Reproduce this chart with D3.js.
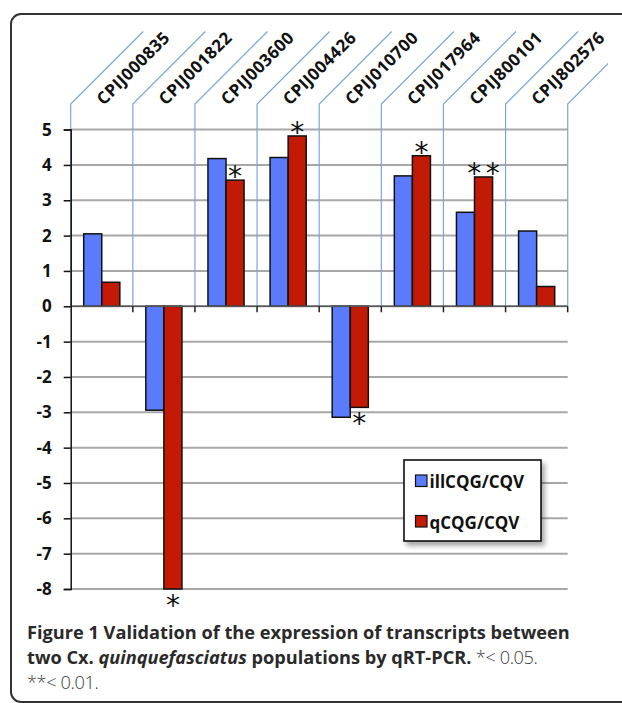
<!DOCTYPE html>
<html>
<head>
<meta charset="utf-8">
<script src="https://cdn.jsdelivr.net/npm/d3@7"></script>
<style>
  html, body { margin: 0; padding: 0; background: #fff; }
  svg { display: block; }
</style>
</head>
<body>
<svg id="chart" width="622" height="703"></svg>
<script>
// Transcript IDs along the x axis
const categories = ["CPIJ000835", "CPIJ001822", "CPIJ003600", "CPIJ004426",
                    "CPIJ010700", "CPIJ017964", "CPIJ800101", "CPIJ802576"];
// Two measurement series
const seriesNames = ["illCQG/CQV", "qCQG/CQV"];
const illValues = [2.05, -2.94, 4.18, 4.21, -3.14, 3.69, 2.66, 2.13];
const qValues   = [0.68, -8.0, 3.57, 4.82, -2.86, 4.26, 3.66, 0.56];
// Significance marks on the qCQG/CQV bars
const qMarks = ["", "*", "*", "*", "*", "*", "**", ""];
const yTicks = [5, 4, 3, 2, 1, 0, -1, -2, -3, -4, -5, -6, -7, -8];

const colors = { "illCQG/CQV": "#5a7bfb", "qCQG/CQV": "#c21a04" };

const svg = d3.select("#chart");

// Drop shadow for the legend box
const defs = svg.append("defs");
const f = defs.append("filter").attr("id", "shadow")
  .attr("x", "-10%").attr("y", "-10%").attr("width", "130%").attr("height", "140%");
f.append("feDropShadow").attr("dx", 3).attr("dy", 4).attr("stdDeviation", 2.5)
  .attr("flood-color", "#000").attr("flood-opacity", 0.35);
defs.append("clipPath").attr("id", "labelClip")
  .append("rect").attr("x", 0).attr("y", 0).attr("width", 608).attr("height", 703);

// Outer rounded frame
svg.append("rect")
  .attr("x", 11).attr("y", 14).attr("width", 640).attr("height", 688)
  .attr("rx", 10).attr("ry", 10)
  .attr("fill", "none").attr("stroke", "#333").attr("stroke-width", 2);

const x0 = d3.scaleBand().domain(categories).range([70.7, 567.7]).padding(0);
const x1 = d3.scaleBand().domain(seriesNames)
  .range([13, x0.bandwidth() - 13]).padding(0);
const y = d3.scaleLinear().domain([-8, 5]).range([589, 129.6]);

// Horizontal gridlines
svg.append("g").selectAll("line").data(yTicks).join("line")
  .attr("x1", x0.range()[0]).attr("x2", x0.range()[1])
  .attr("y1", d => y(d)).attr("y2", d => y(d))
  .attr("stroke", "#a8a8a8").attr("stroke-width", 2);

// Category separators running up into slanted label leaders
const bounds = categories.map(c => x0(c)).concat([x0.range()[1]]);
const leaderTop = 104, rise = 72.5;
svg.append("g").attr("clip-path", "url(#labelClip)")
  .selectAll("path").data(bounds).join("path")
  .attr("d", b => `M${b},${y(0)}L${b},${leaderTop}L${b + rise},${leaderTop - rise}`)
  .attr("fill", "none").attr("stroke", "#7aa7d8").attr("stroke-width", 1.2);

// Slanted category labels
svg.append("g").selectAll("text").data(categories).join("text")
  .attr("transform", c => `translate(${x0(c) + 33},${leaderTop + 2}) rotate(-45)`)
  .attr("font-family", "'Open Sans', sans-serif").attr("font-weight", 700)
  .attr("font-size", 17).attr("letter-spacing", 0.4).attr("fill", "#111")
  .text(c => c);

// Bars
const rows = categories.map((c, i) => ({ c, vals: [illValues[i], qValues[i]] }));
const groups = svg.append("g").selectAll("g").data(rows).join("g")
  .attr("transform", d => `translate(${x0(d.c)},0)`);
groups.selectAll("rect").data(d => d.vals.map((v, k) => ({ s: seriesNames[k], v })))
  .join("rect")
  .attr("x", d => x1(d.s)).attr("width", x1.bandwidth())
  .attr("y", d => y(Math.max(0, d.v)))
  .attr("height", d => Math.abs(y(d.v) - y(0)))
  .attr("fill", d => colors[d.s]).attr("stroke", "#111").attr("stroke-width", 1.5);

// Zero axis with boundary ticks
svg.append("line")
  .attr("x1", x0.range()[0]).attr("x2", x0.range()[1])
  .attr("y1", y(0)).attr("y2", y(0))
  .attr("stroke", "#555").attr("stroke-width", 1.6);
svg.append("g").selectAll("line").data(bounds.slice(1)).join("line")
  .attr("x1", b => b).attr("x2", b => b)
  .attr("y1", y(0)).attr("y2", y(0) + 6)
  .attr("stroke", "#222").attr("stroke-width", 1.5);

// Left value axis
const yAxis = d3.axisLeft(y).tickValues(yTicks).tickSize(7).tickPadding(12)
  .tickFormat(d => String(d));
const ga = svg.append("g").attr("transform", `translate(${x0.range()[0]},0)`).call(yAxis);
ga.select(".domain").attr("stroke", "#111").attr("stroke-width", 1.5);
ga.selectAll(".tick line").attr("stroke", "#111").attr("stroke-width", 1.5);
ga.selectAll(".tick text")
  .attr("font-family", "'Open Sans', sans-serif").attr("font-weight", 700)
  .attr("font-size", 17).attr("fill", "#111");

// Significance asterisks on the qCQG/CQV bars
const starSize = 28;
const stars = [];
qMarks.forEach((m, i) => {
  if (!m) return;
  const v = qValues[i];
  const cx = x0(categories[i]) + x1("qCQG/CQV") + x1.bandwidth() / 2;
  const cy = v >= 0 ? y(v) - 9 : y(v) + 11;
  const n = m.length;
  for (let k = 0; k < n; k++) {
    stars.push({ x: cx + (k - (n - 1) / 2) * 18.5, y: cy });
  }
});
svg.append("g").selectAll("text").data(stars).join("text")
  .attr("x", d => d.x).attr("y", d => d.y + starSize * 0.54)
  .attr("text-anchor", "middle")
  .attr("font-family", "'DejaVu Sans', sans-serif").attr("font-size", starSize)
  .attr("fill", "#111").text("*");

// Legend
const lg = svg.append("g");
lg.append("rect").attr("x", 404).attr("y", 460).attr("width", 137).attr("height", 81)
  .attr("fill", "#fff").attr("stroke", "#111").attr("stroke-width", 1.6)
  .attr("filter", "url(#shadow)");
seriesNames.forEach((s, k) => {
  const yy = 475 + k * 40.5;
  lg.append("rect").attr("x", 415.5).attr("y", yy).attr("width", 11.5).attr("height", 11.5)
    .attr("fill", colors[s]).attr("stroke", "#111").attr("stroke-width", 1.2);
  lg.append("text").attr("x", 429.5).attr("y", yy + 13)
    .attr("font-family", "'Open Sans', sans-serif").attr("font-weight", 700)
    .attr("font-size", 17).attr("fill", "#111").text(s);
});

// Caption
const caption = [
  [{ t: "Figure 1 Validation of the expression of transcripts between", w: 700 }],
  [{ t: "two ", w: 700 }, { t: "Cx.", w: 700 }, { t: " quinquefasciatus", w: 700, i: true },
   { t: " populations by qRT-PCR.", w: 700 }, { t: " *< 0.05.", w: 300, light: true }],
  [{ t: "**< 0.01.", w: 300, light: true }]
];
const capG = svg.append("g");
caption.forEach((line, li) => {
  const t = capG.append("text").attr("x", 27).attr("y", 639 + li * 25)
    .attr("font-family", "'Open Sans', sans-serif").attr("font-size", 18.2)
    .attr("fill", "#2a2a2a");
  line.forEach(sp => {
    t.append("tspan").attr("font-weight", sp.w)
      .attr("font-style", sp.i ? "italic" : "normal")
      .attr("fill", sp.light ? "#3a3a3a" : "#2a2a2a")
      .attr("letter-spacing", sp.light ? -0.4 : 0)
      .text(sp.t);
  });
});
</script>
</body>
</html>
